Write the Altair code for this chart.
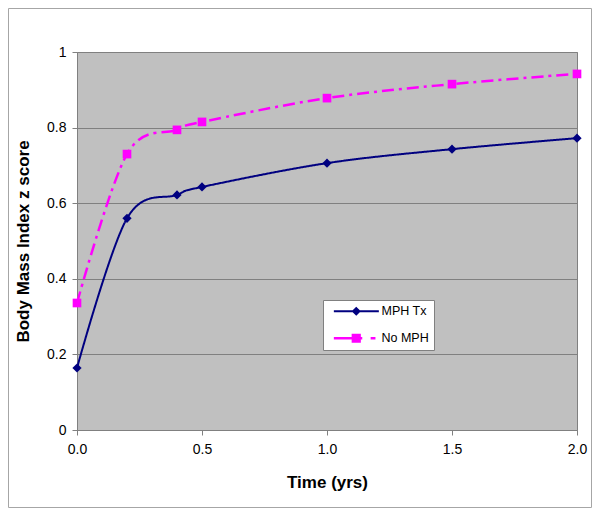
import altair as alt
import pandas as pd

# ---- data ----
times = [0.0, 0.2, 0.4, 0.5, 1.0, 1.5, 2.0]
mph_tx = [0.164, 0.560, 0.622, 0.643, 0.706, 0.743, 0.772]
no_mph = [0.336, 0.730, 0.794, 0.815, 0.878, 0.915, 0.942]
series_names = ["MPH Tx", "No MPH"]
series_colors = ["#000080", "#FF00FF"]
x_ticks = [0.0, 0.5, 1.0, 1.5, 2.0]
y_ticks = [0, 0.2, 0.4, 0.6, 0.8, 1.0]

rows = []
for t, a, b in zip(times, mph_tx, no_mph):
    rows.append({"time": t, "bmi": a, "series": series_names[0]})
    rows.append({"time": t, "bmi": b, "series": series_names[1]})
df = pd.DataFrame(rows)

# legend glyphs (line + marker), units: 4px per unit at symbolSize 64
legend_paths = [
    "M-5.6,-0.25H5.65V0.25H-5.6Z M0,-1.15L1.15,0L0,1.15L-1.15,0Z",
    "M-5.6,-0.3H1.5V0.3H-5.6Z M-1.15,-1.15H1.15V1.15H-1.15Z M3.6,-0.3H4.8V0.3H3.6Z",
]

font = "Liberation Sans"

x_enc = alt.X(
    "time:Q",
    scale=alt.Scale(domain=[0, 2], nice=False),
    axis=alt.Axis(values=x_ticks, format=".1f", title="Time (yrs)", grid=False,
                  labelPadding=7, titlePadding=18, labelFlush=False),
)
y_enc = alt.Y(
    "bmi:Q",
    scale=alt.Scale(domain=[0, 1], nice=False),
    axis=alt.Axis(values=y_ticks, format="~g", title="Body Mass Index z score", grid=True,
                  labelPadding=6, titlePadding=14, labelFlush=False),
)
color_scale = alt.Scale(domain=series_names, range=series_colors)

legend_def = alt.Legend(
    title=None, orient="none", legendX=246, legendY=248,
    fillColor="white", strokeColor="#808080", padding=5,
    symbolSize=64, symbolOffset=22, labelOffset=19, symbolStrokeWidth=0,
    symbolOpacity=1, symbolType="circle",
    labelFont=font, labelFontSize=12.5, labelColor="black", rowPadding=14,
)

base = alt.Chart(df)

frame = alt.Chart(pd.DataFrame({"k": [0]})).mark_rect(
    fill="transparent", stroke="#A6A6A6", strokeWidth=1
).encode(
    x=alt.value(-68.5), x2=alt.value(514.5), y=alt.value(-43.5), y2=alt.value(455.5)
)

is_tx = "datum.series == 'MPH Tx'"

lines = base.mark_line(interpolate="cardinal").encode(
    x=x_enc, y=y_enc,
    color=alt.Color("series:N", scale=color_scale, legend=legend_def),
    strokeDash=alt.condition(is_tx, alt.value([1, 0]), alt.value([12, 5, 3, 5])),
    strokeWidth=alt.condition(is_tx, alt.value(2), alt.value(2.5)),
)

points = base.mark_point(filled=True, opacity=1).encode(
    x=x_enc, y=y_enc,
    color=alt.Color("series:N", scale=color_scale, legend=legend_def),
    shape=alt.condition(is_tx, alt.value("diamond"), alt.value("square")),
    size=alt.condition(is_tx, alt.value(85), alt.value(75)),
)

legend_layer = base.mark_point(filled=True).encode(
    x=x_enc, y=y_enc,
    opacity=alt.value(0),
    color=alt.Color("series:N", scale=color_scale, legend=legend_def),
    shape=alt.Shape("series:N", scale=alt.Scale(domain=series_names, range=legend_paths), legend=legend_def),
)

chart = alt.layer(frame, lines, points, legend_layer).properties(
    width=500, height=378,
    autosize=alt.AutoSizeParams(type="none"),
    padding={"left": 69, "top": 44, "right": 15, "bottom": 78},
    background="white",
).configure_view(
    fill="#C0C0C0", stroke="#808080", strokeWidth=1
).configure_axis(
    labelFont=font, labelFontSize=14, labelColor="black",
    titleFont=font, titleFontSize=17, titleFontWeight="bold", titleColor="black",
    tickColor="#808080", domainColor="#808080", gridColor="#808080", tickSize=5,
)

chart.save("out.html", embed_options={"renderer": "svg", "actions": False})
